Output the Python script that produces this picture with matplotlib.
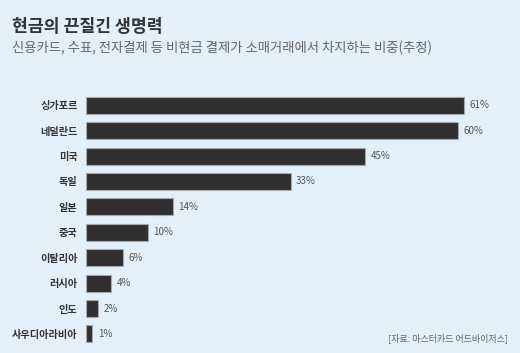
import matplotlib
matplotlib.use('Agg')
import matplotlib.pyplot as plt

plt.rcParams['font.family'] = ['Noto Sans CJK KR', 'DejaVu Sans']

countries = ['싱가포르', '네덜란드', '미국', '독일', '일본', '중국', '이탈리아', '러시아', '인도', '사우디아라비아']
shares = [61, 60, 45, 33, 14, 10, 6, 4, 2, 1]

title = '현금의 끈질긴 생명력'
subtitle = '신용카드, 수표, 전자결제 등 비현금 결제가 소매거래에서 차지하는 비중(추정)'
source = '[자료: 마스터카드 어드바이저스]'

bg = '#e3eff9'
fig = plt.figure(figsize=(5.2, 3.53), dpi=100, facecolor=bg)
ax = fig.add_axes([86 / 520, 0.018, (500 - 86) / 520, 0.72])
ax.set_facecolor(bg)

ypos = list(range(len(countries)))
ax.barh(ypos, shares, height=0.67, color='#302e2f', edgecolor='#a8a8a8', linewidth=0.8)
for y, v in zip(ypos, shares):
    ax.text(v + 0.9, y, f'{v}%', va='center', ha='left', fontsize=7, color='#555555')

ax.set_xlim(0, 66.8)
ax.set_ylim(len(countries) - 0.5, -0.5)
ax.set_yticks(ypos)
ax.set_yticklabels(countries, fontsize=7.3, fontweight='bold', color='#333333')
ax.tick_params(axis='y', length=0, pad=6)
ax.set_xticks([])
for s in ax.spines.values():
    s.set_visible(False)

fig.text(12 / 520, 1 - 27 / 353, title, fontsize=12.4, fontweight='bold', color='#333333', va='center')
fig.text(12 / 520, 1 - 48 / 353, subtitle, fontsize=9.6, color='#666666', va='center')
fig.text(508 / 520, 1 - 338 / 353, source, fontsize=6.5, color='#666666', ha='right', va='center')

fig.savefig('out.png', dpi=100, facecolor=bg)
